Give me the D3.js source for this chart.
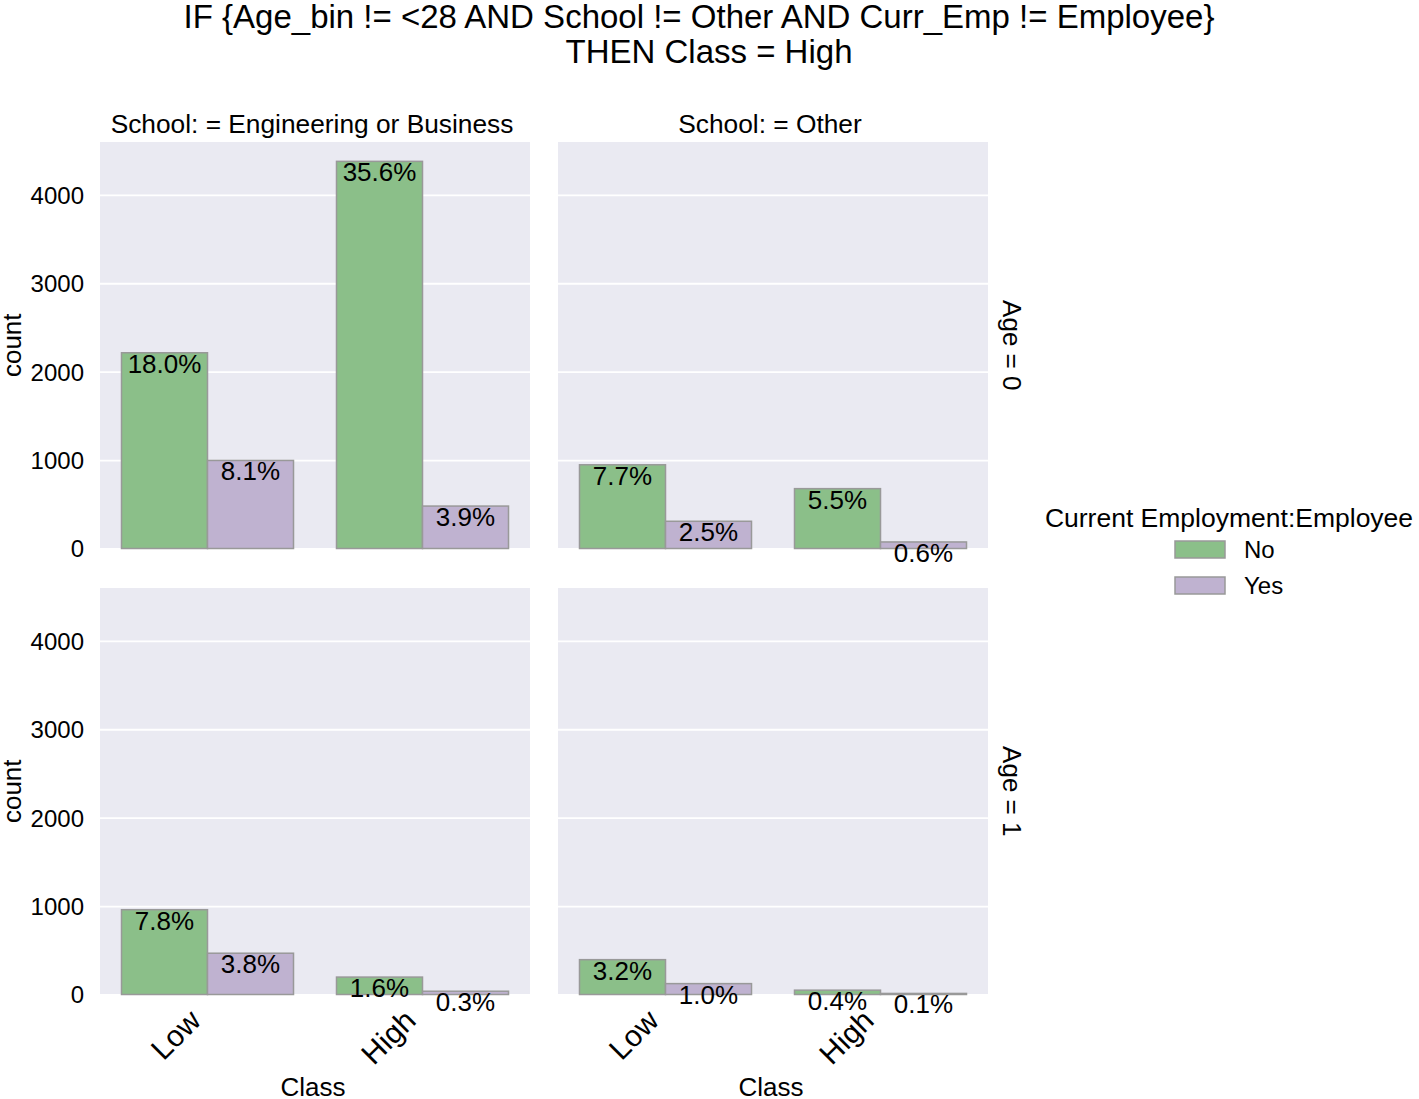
<!DOCTYPE html>
<html><head><meta charset="utf-8">
<script src="https://cdn.jsdelivr.net/npm/d3@7"></script>
<style>
html,body{margin:0;padding:0;background:#fff;}
svg{display:block;font-family:"Liberation Sans",Arial,Helvetica,sans-serif;}
</style></head>
<body><svg id="chart" width="1419" height="1099"></svg>
<script>
const titleLines = ["IF {Age_bin != <28 AND School != Other AND Curr_Emp != Employee}", "THEN Class = High"];
const classes = ["Low", "High"];
const hues = ["No", "Yes"];
const schools = ["School: = Engineering or Business", "School: = Other"];
const ages = ["Age = 0", "Age = 1"];
const yTicks = [0, 1000, 2000, 3000, 4000];
// counts [Low-No, Low-Yes, High-No, High-Yes]
const engAge0 = [2214, 996, 4379, 480];
const otherAge0 = [947, 308, 677, 74];
const engAge1 = [959, 467, 197, 37];
const otherAge1 = [394, 123, 49, 12];
const hueColors = ["#8bbf89", "#bfb2d0"];
const legendTitle = "Current Employment:Employee";

const panels = [
  {r:0, c:0, v:engAge0}, {r:0, c:1, v:otherAge0},
  {r:1, c:0, v:engAge1}, {r:1, c:1, v:otherAge1}
];
const total = d3.sum(panels, p => d3.sum(p.v));
const maxV = d3.max(panels, p => d3.max(p.v));

const svg = d3.select("#chart");
const colX = [100, 558], rowY = [142, 588], pw = 430, ph = 406.5;

const x = d3.scaleBand().domain(classes).range([0, pw]).padding(0);
const xh = d3.scaleBand().domain(hues).range([0.1 * x.bandwidth(), 0.9 * x.bandwidth()]).padding(0);
const y = d3.scaleLinear().domain([0, maxV * 1.05]).range([ph, 0]);
const color = d3.scaleOrdinal().domain(hues).range(hueColors);

// title
svg.append("text").attr("x", 699).attr("y", 27.5).attr("text-anchor", "middle")
  .attr("font-size", 33).text(titleLines[0]);
svg.append("text").attr("x", 709).attr("y", 63).attr("text-anchor", "middle")
  .attr("font-size", 33).text(titleLines[1]);

panels.forEach(p => {
  const g = svg.append("g").attr("transform", `translate(${colX[p.c]},${rowY[p.r]})`);
  g.append("rect").attr("width", pw).attr("height", ph).attr("fill", "#eaeaf2");
  // grid
  g.append("g").call(d3.axisLeft(y).tickValues(yTicks).tickSize(-pw).tickFormat(""))
    .call(a => a.select(".domain").remove())
    .call(a => a.selectAll("line").attr("stroke", "#fff").attr("stroke-width", 1.8));
  const rows = [];
  classes.forEach((cl, i) => hues.forEach((h, j) => rows.push({cl, h, v: p.v[i * 2 + j]})));
  g.selectAll("rect.bar").data(rows).enter().append("rect").attr("class", "bar")
    .attr("x", d => x(d.cl) + xh(d.h)).attr("width", xh.bandwidth())
    .attr("y", d => y(d.v)).attr("height", d => ph - y(d.v))
    .attr("fill", d => color(d.h)).attr("stroke", "#999").attr("stroke-width", 1.5);
  g.selectAll("text.lbl").data(rows).enter().append("text").attr("class", "lbl")
    .attr("x", d => x(d.cl) + xh(d.h) + xh.bandwidth() / 2)
    .attr("y", d => y(d.v) + 20).attr("text-anchor", "middle").attr("font-size", 26)
    .text(d => (d.v / total * 100).toFixed(1) + "%");
  if (p.c === 0) {
    g.append("g").call(d3.axisLeft(y).tickValues(yTicks).tickSize(0).tickPadding(16).tickFormat(d3.format("d")))
      .call(a => a.select(".domain").remove())
      .call(a => a.selectAll("text").attr("font-size", 24).attr("font-family", null).attr("fill", "#000").attr("dy", "0.35em"));
    svg.append("text").attr("transform", `translate(21,${rowY[p.r] + ph / 2}) rotate(-90)`)
      .attr("text-anchor", "middle").attr("font-size", 26).text("count");
  }
  if (p.r === 0) {
    svg.append("text").attr("x", colX[p.c] + pw / 2 - 3).attr("y", 133).attr("text-anchor", "middle")
      .attr("font-size", 26.3).text(schools[p.c]);
  }
  if (p.c === 1) {
    svg.append("text").attr("transform", `translate(1003,${rowY[p.r] + ph / 2}) rotate(90)`)
      .attr("text-anchor", "middle").attr("font-size", 26).text(ages[p.r]);
  }
  if (p.r === 1) {
    classes.forEach(cl => {
      const tx = colX[p.c] + x(cl) + x.bandwidth() / 2 - 5;
      svg.append("text").attr("transform", `translate(${tx},${rowY[1] + ph + 28}) rotate(-45)`)
        .attr("text-anchor", "end").attr("font-size", 30).text(cl);
    });
    svg.append("text").attr("x", colX[p.c] + pw / 2 - 2).attr("y", 1096).attr("text-anchor", "middle")
      .attr("font-size", 26).text("Class");
  }
});

// legend
const lg = svg.append("g");
lg.append("text").attr("x", 1229).attr("y", 527).attr("text-anchor", "middle").attr("font-size", 26.5).text(legendTitle);
hues.forEach((h, i) => {
  lg.append("rect").attr("x", 1175).attr("y", 541 + i * 36).attr("width", 50).attr("height", 17)
    .attr("fill", color(h)).attr("stroke", "#999").attr("stroke-width", 1.5);
  lg.append("text").attr("x", 1244).attr("y", 558 + i * 36).attr("font-size", 24).text(h);
});
</script></body></html>
